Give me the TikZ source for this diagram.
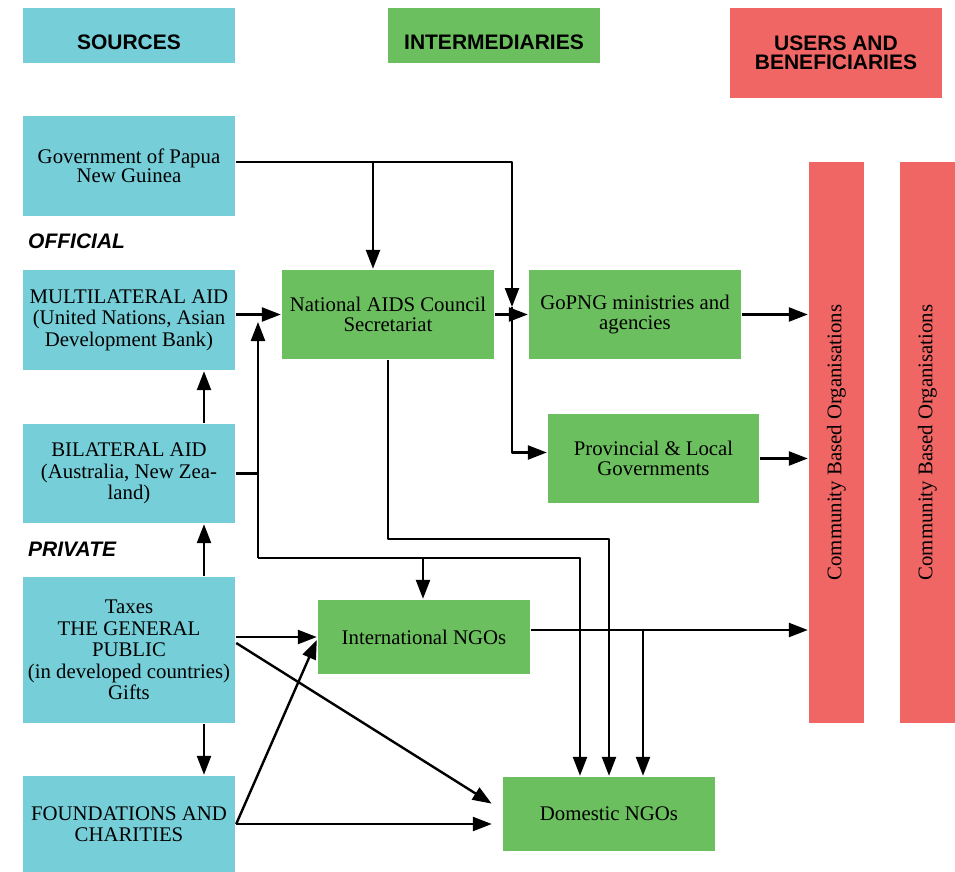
\documentclass[tikz,border=0pt]{standalone}
\usepackage{fontspec}
\usepackage{graphicx}
\setmainfont{Liberation Serif}
\setsansfont{Liberation Sans}
\usetikzlibrary{arrows.meta}
\definecolor{srcblue}{RGB}{118,206,216}
\definecolor{midgreen}{RGB}{108,191,94}
\definecolor{usrred}{RGB}{240,102,100}

\begin{document}
\begin{tikzpicture}[x=1pt, y=-1pt, line width=2.4pt, line join=round,
            box/.style={inner sep=0pt, align=center, minimum width=212pt, font=\fontsize{20.8}{21.5}\selectfont},
            src/.style={box, fill=srcblue},
            mid/.style={box, fill=midgreen, font=\fontsize{20.8}{19.5}\selectfont},
            usr/.style={box, fill=usrred, minimum width=55pt, minimum height=561pt},
            hd/.style={inner sep=0pt, align=center, minimum width=212pt, font=\sffamily\bfseries\fontsize{21}{19.5}\selectfont},
            tag/.style={inner sep=0pt, anchor=west, font=\sffamily\bfseries\itshape\fontsize{21}{21}\selectfont},
            arr/.style={-{Triangle[length=19pt,width=14pt]}}]
            \useasboundingbox (0,0) rectangle (955,872);

            \node[hd, fill=srcblue, text height=42pt, text depth=13pt] (hsrc) at (129,35.5) {SOURCES};
            \node[hd, fill=midgreen, text height=42pt, text depth=13pt] (hmid) at (494,35.5) {INTERMEDIARIES};
            \node[hd, fill=usrred, minimum height=90pt] (husr) at (836,53) {USERS AND\\BENEFICIARIES};

            \node[tag] (off) at (27,241) {OFFICIAL};
            \node[tag] (priv) at (27,549) {PRIVATE};

            \node[src, minimum height=100pt, font=\fontsize{20.8}{19.5}\selectfont] (gov) at (129,166) {Government of Papua\\New Guinea};
            \node[src, minimum height=100pt] (multi) at (129,320) {MULTILATERAL AID\\(United Nations, Asian\\Development Bank)};
            \node[src, minimum height=99pt] (bilat) at (129,473.5) {BILATERAL AID\\(Australia, New Zea-\\land)};
            \node[src, minimum height=146pt] (public) at (129,650) {Taxes\\THE GENERAL\\PUBLIC\\(in developed countries)\\Gifts};
            \node[src, minimum height=96pt] (found) at (129,824) {FOUNDATIONS AND\\CHARITIES};

            \node[mid, minimum height=89pt] (nacs) at (388,314.5) {National AIDS Council\\Secretariat};
            \node[mid, minimum height=89pt] (gopng) at (635,314.5) {GoPNG ministries and\\agencies};
            \node[mid, minimum height=89pt, minimum width=211pt] (prov) at (653.5,458.5) {Provincial \& Local\\Governments};
            \node[mid, minimum height=74pt] (intngo) at (424,637) {International NGOs};
            \node[mid, minimum height=74pt] (domngo) at (609,814) {Domestic NGOs};

            \node[usr] (cbo1) at (836.5,442.5) {\rotatebox{90}{Community Based Organisations}};
            \node[usr] (cbo2) at (927.5,442.5) {\rotatebox{90}{Community Based Organisations}};

            \coordinate (g1) at (373,162);
            \coordinate (g2) at (512,162);
            \coordinate (g3) at (512,307);
            \coordinate (b1) at (258,473.5);
            \coordinate (b2) at (258,322);
            \coordinate (b3) at (258,558);
            \coordinate (b4) at (423,558);
            \coordinate (b5) at (580,558);
            \coordinate (s2) at (609,539);
            \coordinate (i1) at (643,630);

            \draw[arr] (gov.east |- g2) -- (g2) -- (g3);
            \draw[arr] (g1) -- (g1 |- nacs.north);
            \draw[arr] (g3) |- ([yshift=6pt]prov.west);

            \draw[arr] (multi.east |- nacs.west) -- (nacs.west);
            \draw[arr] ([xshift=75pt]bilat.north) -- ([xshift=75pt]multi.south);
            \draw[-] (bilat.east) -- (b1);
            \draw[arr] (b3) -- (b2);
            \draw[arr] (b3) -- (b5) -- (b5 |- domngo.north);
            \draw[arr] (b4) -- (b4 |- intngo.north);

            \draw[arr] (nacs.south) |- (s2) -- (s2 |- domngo.north);
            \draw[arr] (nacs.east) -- (gopng.west);
            \draw[arr] (gopng.east) -- (gopng.east -| cbo1.west);
            \draw[arr] (prov.east) -- (prov.east -| cbo1.west);

            \draw[arr] (intngo.east |- i1) -- (i1 -| cbo1.west);
            \draw[arr] (i1) -- (i1 |- domngo.north);

            \draw[arr] ([xshift=75pt]public.north) -- ([xshift=75pt]bilat.south);
            \draw[arr] ([xshift=75pt]public.south) -- ([xshift=75pt]found.north);
            \draw[arr] (public.east |- intngo.west) -- (intngo.west);
            \draw[arr, shorten >=12pt] ([yshift=7pt]public.east) -- ([yshift=4pt]domngo.west);
            \draw[arr, shorten >=10pt] (found.east) -- (found.east -| domngo.west);
            \draw[arr] (found.east) -- ([yshift=-3pt]intngo.west);
        \end{tikzpicture}
\end{document}
